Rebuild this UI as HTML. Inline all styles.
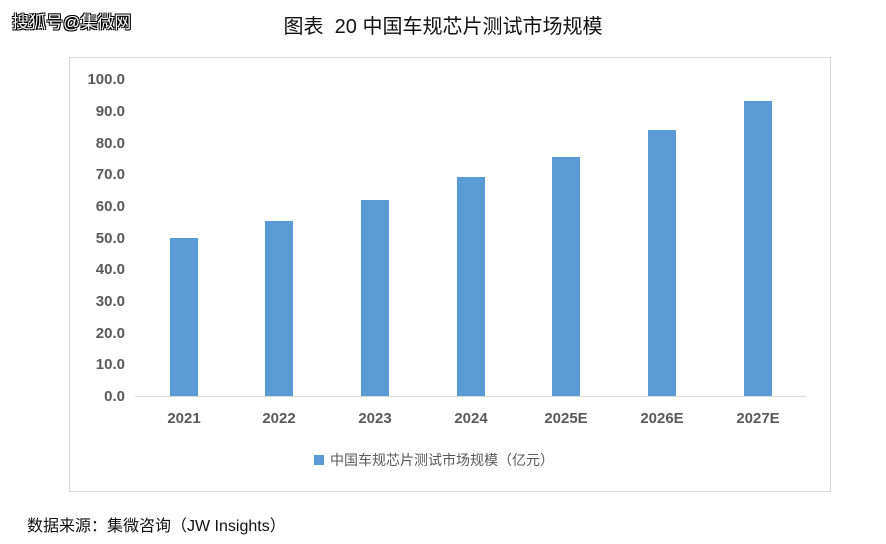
<!DOCTYPE html>
<html><head><meta charset="utf-8"><style>
body{margin:0;width:886px;height:544px;background:#fff;font-family:"Liberation Sans","Noto Sans CJK SC",sans-serif;position:relative;overflow:hidden}
.a{position:absolute;white-space:nowrap}
</style></head><body>
<div class="a" style="left:12px;top:8px;font-size:17px;color:#fff;text-shadow:0 0 1px #000,1px 1px 0 #000,-1px -1px 0 #000,1px -1px 0 #000,-1px 1px 0 #000">搜狐号@集微网</div>
<div class="a" style="left:0;width:886px;top:10px;text-align:center;font-size:20px;color:#111">图表&nbsp; 20 中国车规芯片测试市场规模</div>
<div class="a" style="left:69px;top:57px;width:760px;height:433px;border:1px solid #d9d9d9"></div>
<svg class="a" style="left:0;top:0" width="886" height="544">
<g font-family="Liberation Sans, sans-serif" font-size="15" font-weight="bold" fill="#595959" text-anchor="end">
<text x="125" y="84">100.0</text><text x="125" y="116">90.0</text><text x="125" y="148">80.0</text><text x="125" y="179">70.0</text><text x="125" y="211">60.0</text><text x="125" y="243">50.0</text><text x="125" y="274">40.0</text><text x="125" y="306">30.0</text><text x="125" y="338">20.0</text><text x="125" y="369">10.0</text><text x="125" y="401">0.0</text>
</g>
<line x1="135" y1="396.5" x2="806" y2="396.5" stroke="#d9d9d9" stroke-width="1"/>
<g fill="#5b9bd5">
<rect x="170" y="238" width="28" height="158"/>
<rect x="265" y="221" width="28" height="175"/>
<rect x="361" y="200" width="28" height="196"/>
<rect x="457" y="177" width="28" height="219"/>
<rect x="552" y="157" width="28" height="239"/>
<rect x="648" y="130" width="28" height="266"/>
<rect x="744" y="101" width="28" height="295"/>
</g>
<g font-family="Liberation Sans, sans-serif" font-size="15" font-weight="bold" fill="#595959" text-anchor="middle">
<text x="184" y="423">2021</text><text x="279" y="423">2022</text><text x="375" y="423">2023</text><text x="471" y="423">2024</text><text x="566" y="423">2025E</text><text x="662" y="423">2026E</text><text x="758" y="423">2027E</text>
</g>
<rect x="314" y="455" width="10" height="10" fill="#5b9bd5"/>
</svg>
<div class="a" style="left:330px;top:450px;font-size:14px;color:#595959">中国车规芯片测试市场规模（亿元）</div>
<div class="a" style="left:27px;top:512px;font-size:16px;color:#111">数据来源：集微咨询（JW Insights）</div>
</body></html>
